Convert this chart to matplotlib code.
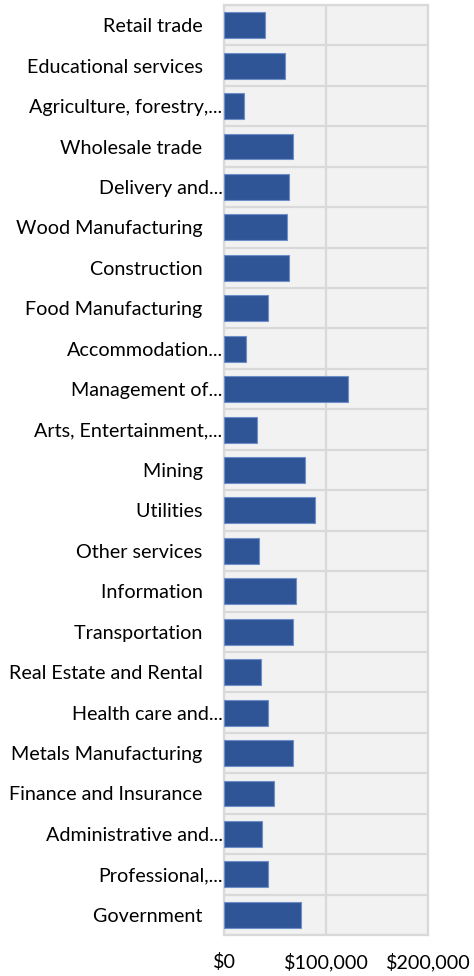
# Horizontal bar chart: average value by industry
import matplotlib.pyplot as plt
from matplotlib.ticker import FuncFormatter
import numpy as np

industries = [
    "Retail trade", "Educational services", "Agriculture, forestry,...",
    "Wholesale trade", "Delivery and...", "Wood Manufacturing",
    "Construction", "Food Manufacturing", "Accommodation...",
    "Management of...", "Arts, Entertainment,...", "Mining", "Utilities",
    "Other services", "Information", "Transportation",
    "Real Estate and Rental", "Health care and...", "Metals Manufacturing",
    "Finance and Insurance", "Administrative and...", "Professional,...",
    "Government",
]
values = [
    40000, 60000, 20000, 67500, 63500, 61500, 63500, 43500, 22000, 122000,
    32000, 79000, 89500, 34000, 71000, 67500, 36000, 43500, 67500, 49500,
    37500, 43500, 75000,
]
x_ticks = [0, 100000, 200000]

plt.rcParams['font.family'] = ['Lato', 'DejaVu Sans']

fig = plt.figure(figsize=(4.74, 9.76), dpi=100)
ax = fig.add_axes([224 / 474, 1 - 935 / 976, (428 - 224) / 474, 930 / 976])

y = np.arange(len(industries))
ax.barh(y, values, height=0.64, color='#2f5597', edgecolor='#6f8fc9',
        linewidth=0.8, zorder=3)

# full names carry trailing blank space, like the Excel original
labels = [s if s.endswith('...') else s + '    ' for s in industries]

ax.set_facecolor('#f2f2f2')
ax.set_xlim(0, 200000)
ax.set_ylim(len(industries) - 0.5, -0.5)
ax.set_yticks(y)
ax.set_yticklabels(labels)
ax.set_yticks(np.arange(len(industries) + 1) - 0.5, minor=True)
ax.set_xticks(x_ticks)
ax.xaxis.set_major_formatter(FuncFormatter(lambda v, p: f"${v:,.0f}"))

ax.grid(axis='x', which='major', color='#d9d9d9', linewidth=1.6, zorder=0)
ax.grid(axis='y', which='minor', color='#d9d9d9', linewidth=1.6, zorder=0)
ax.tick_params(axis='both', which='both', length=0, labelsize=14.2,
               colors='#000000')
ax.tick_params(axis='x', pad=13)
ax.tick_params(axis='y', pad=1)
for s in ax.spines.values():
    s.set_color('#d9d9d9')
    s.set_linewidth(1.6)

plt.savefig('out.png', dpi=100)
